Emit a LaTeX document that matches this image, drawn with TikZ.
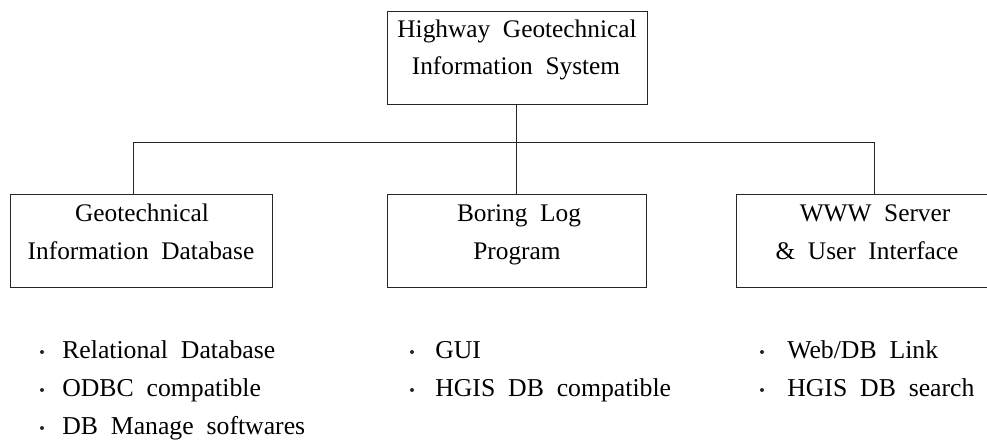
\documentclass[tikz,border=0pt]{standalone}
\usepackage{fontspec}
\setmainfont{Liberation Serif}
\begin{document}
\begin{tikzpicture}[x=0.75pt,y=-0.75pt,
  boxline/.style={draw=black!85,line width=0.7pt,inner sep=0pt,minimum height=69.75pt},
  boxtext/.style={font=\fontsize{19}{22}\selectfont,anchor=base,inner sep=0pt},
  item/.style={font=\fontsize{19.3}{22}\selectfont,anchor=base west,inner sep=0pt},
  dotm/.style={circle,fill=black!85,inner sep=0pt,minimum size=3pt},
  conn/.style={draw=black!85,line width=0.6pt}]
\useasboundingbox (0,0) rectangle (987,441);
\begin{scope}
\clip (0,0) rectangle (987,441);
% boxes
\node[boxline,minimum width=195pt] (top) at (517,57.5) {};
\node[boxline,minimum width=196.5pt] (left) at (141,240.5) {};
\node[boxline,minimum width=194.25pt] (mid) at (516.5,240.5) {};
\node[boxline,minimum width=207pt] (right) at (874,240.5) {};
% box texts
\node[boxtext] (top1) at (517,38) {Highway\ \ Geotechnical};
\node[boxtext] (top2) at (516,75) {Information\ \ System};
\node[boxtext] (left1) at (142,222) {Geotechnical};
\node[boxtext] (left2) at (141,260) {Information\ \ Database};
\node[boxtext] (mid1) at (519,222) {Boring\ \ Log};
\node[boxtext] (mid2) at (517,260) {Program};
\node[boxtext] (right1) at (875,222) {WWW\ \ Server};
\node[boxtext] (right2) at (867,260) {\&\ \ User\ \ Interface};
\end{scope}
% connectors
\coordinate (j) at (516,142);
\coordinate (jl) at (133,142);
\coordinate (jr) at (874,142);
\draw[conn] (top.south -| j) -- (j);
\draw[conn] (left.north -| jl) -- (jl) -- (jr) -- (right.north -| jr);
\draw[conn] (j) -- (mid.north -| j);
% bullets
\foreach \bx/\tx/\ty/\txt [count=\i] in {42/62/358/{Relational\ \ Database}, 42/62/396/{ODBC\ \ compatible}, 42/62/434/{DB\ \ Manage\ \ softwares}, 412/435/358/{GUI}, 412/435/396/{HGIS\ \ DB\ \ compatible}, 762/787/358/{Web/DB\ \ Link}, 762/787/396/{HGIS\ \ DB\ \ search}}{
  \node[dotm] (b\i) at (\bx,\ty-6) {};
  \node[item] (t\i) at (\tx,\ty) {\txt};
}
\end{tikzpicture}
\end{document}
